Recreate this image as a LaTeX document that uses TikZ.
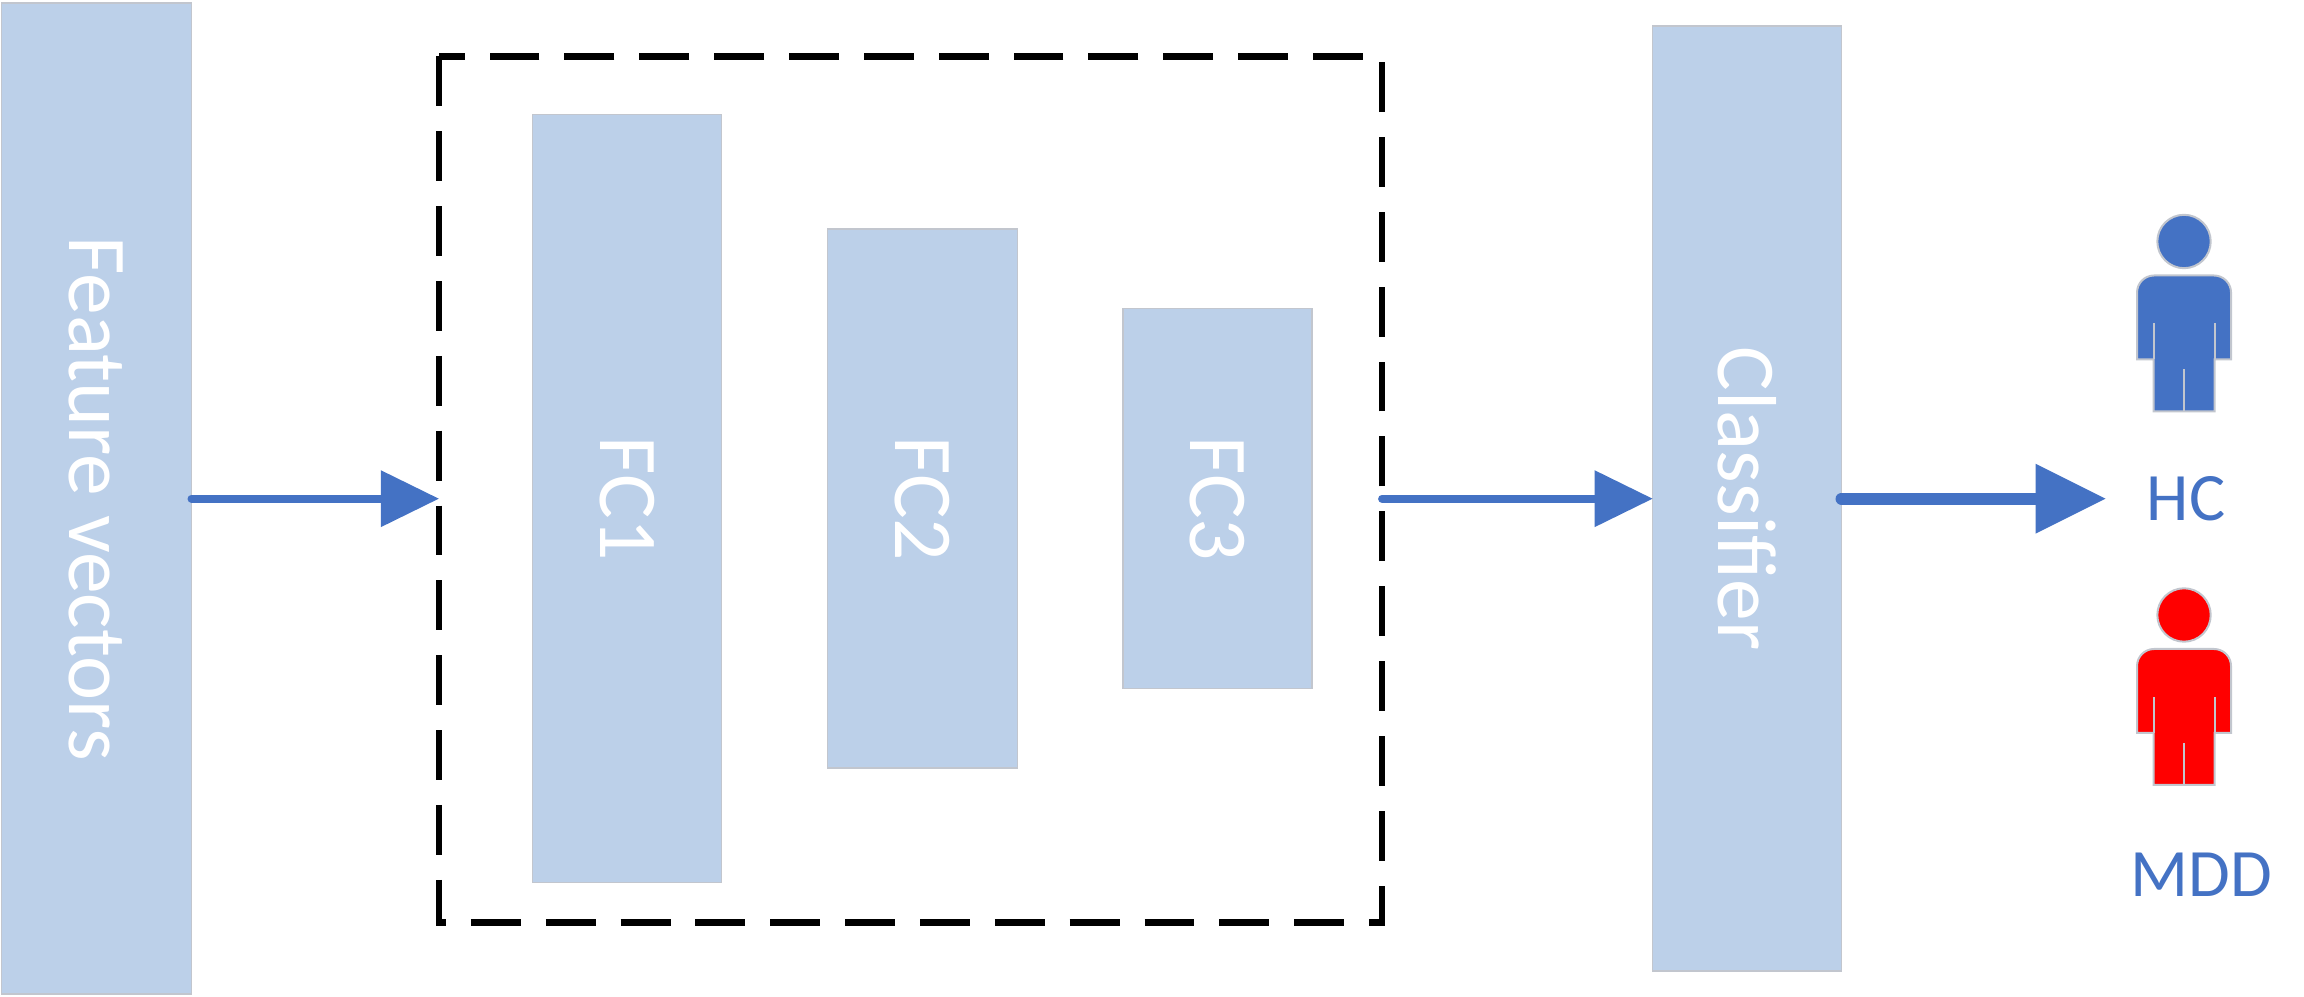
\documentclass[tikz,border=0pt]{standalone}
\usepackage{fontspec}
\setmainfont{Carlito}
\usetikzlibrary{arrows.meta}
\definecolor{boxfill}{HTML}{BCD0E9}
\definecolor{boxedge}{HTML}{C2C6CE}
\definecolor{flowblue}{HTML}{4472C4}

\begin{document}
\begin{tikzpicture}
[blockbox/.style={rectangle,fill=boxfill,draw=boxedge,line width=.015cm,inner sep=0,outer sep=0,text=white,font=\fontsize{23.8}{28}\selectfont},
flow/.style={draw=flowblue,line width=.08cm,line cap=round,-{Triangle[length=.58cm,width=.57cm,line width=0pt]}},
bigflow/.style={flow,line width=.12cm,-{Triangle[length=.70cm,width=.70cm,line width=0pt]}},
personedge/.style={draw=boxedge,line width=.02cm},
classname/.style={text=flowblue,inner sep=0,font=\fontsize{19.3}{23}\selectfont},
person/.pic={
\path[pic actions,personedge] (0,0) circle (.267);
\path[pic actions,personedge] (-.47,-1.18) -- (-.47,-.51) arc[start angle=180,end angle=90,radius=.17] -- (.30,-.34) arc[start angle=90,end angle=0,radius=.17] -- (.47,-1.18) -- (.305,-1.18) -- (.305,-1.70) -- (-.305,-1.70) -- (-.305,-1.18) -- cycle;
\draw[personedge] (-.305,-1.18) -- (-.305,-.82);
\draw[personedge] (.305,-1.18) -- (.305,-.82);
\draw[personedge] (0,-1.28) -- (0,-1.70);
}]
\useasboundingbox (0,0) rectangle (23.04,9.96);
\node[blockbox,minimum width=1.90cm,minimum height=9.91cm] (featbox) at (.965,4.973) {\rotatebox{-90}{Feature vectors}};
\node[blockbox,minimum width=1.89cm,minimum height=7.68cm] (fc1) at (6.27,4.973) {\rotatebox{-90}{FC1}};
\node[blockbox,minimum width=1.90cm,minimum height=5.39cm] (fc2) at (9.225,4.973) {\rotatebox{-90}{FC2}};
\node[blockbox,minimum width=1.89cm,minimum height=3.80cm] (fc3) at (12.175,4.973) {\rotatebox{-90}{FC3}};
\node[blockbox,minimum width=1.89cm,minimum height=9.45cm] (classifier) at (17.47,4.973) {\rotatebox{-90}{Classifier}};
\node[inner sep=0,outer sep=0,minimum width=9.433cm,minimum height=8.66cm] (fcgroup) at (9.104,5.065) {};
\coordinate (hctip) at (21.055,4.973);
\node[classname] (hc) at (21.86,4.973) {HC};
\node[classname] (mdd) at (22.01,1.21) {MDD};
\pic[fill=flowblue] (hcicon) at (21.84,7.545) {person};
\pic[fill=red] (mddicon) at (21.84,3.81) {person};
% dashes run down the left side first
\draw[black,line width=.065cm,dash pattern=on .499cm off .2495cm] (fcgroup.north west) -- (fcgroup.south west) -- (fcgroup.south east) -- (fcgroup.north east) -- cycle;
\draw[flow] (featbox.east) -- (fcgroup.west |- featbox.east);
\draw[flow] (fcgroup.east |- classifier.west) -- (classifier.west);
\draw[bigflow] (classifier.east) -- (hctip);
\end{tikzpicture}
\end{document}
